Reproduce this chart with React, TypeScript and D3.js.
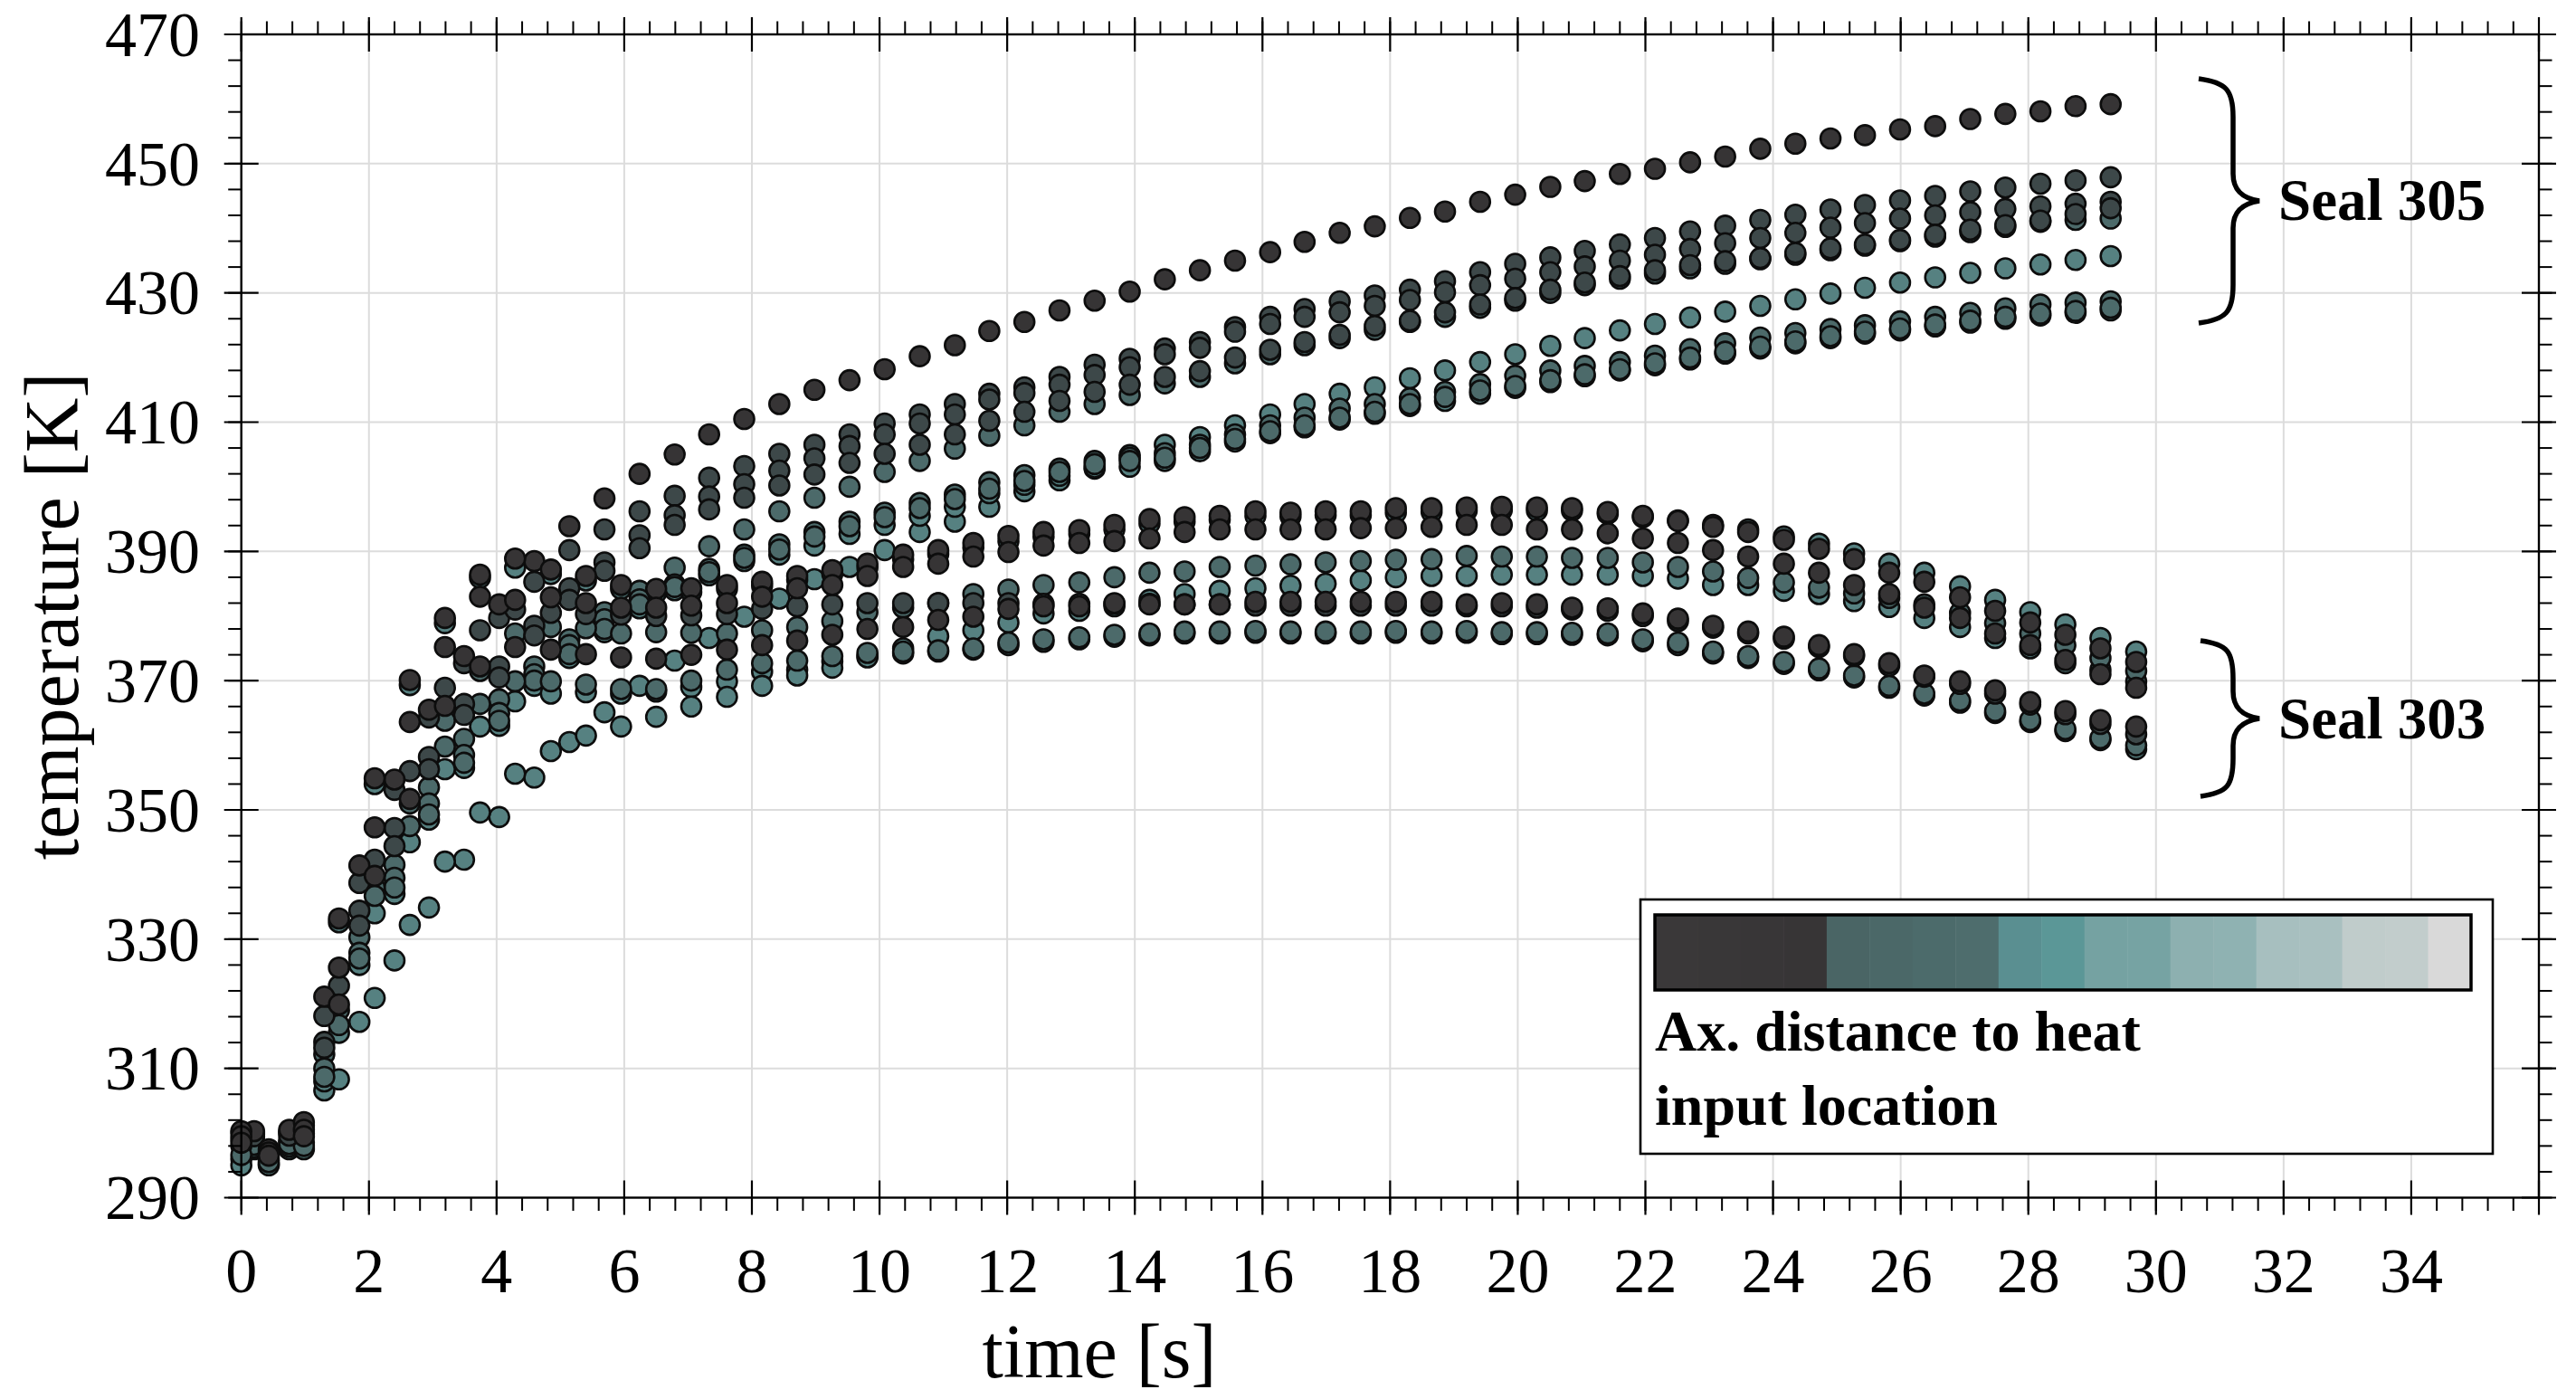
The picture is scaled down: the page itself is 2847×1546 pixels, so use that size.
import React from "react";
import * as d3 from "d3";

// ---------- DATA ----------
const timesSeal305 = [0.20, 0.75, 1.30, 1.85, 2.40, 2.94, 3.49, 4.04, 4.59, 5.14, 5.69, 6.24, 6.79, 7.33, 7.88, 8.43, 8.98, 9.53, 10.08, 10.63, 11.18, 11.72, 12.27, 12.82, 13.37, 13.92, 14.47, 15.02, 15.57, 16.12, 16.66, 17.21, 17.76, 18.31, 18.86, 19.41, 19.96, 20.51, 21.05, 21.60, 22.15, 22.70, 23.25, 23.80, 24.35, 24.90, 25.44, 25.99, 26.54, 27.09, 27.64, 28.19, 28.74, 29.29];
const timesSeal303 = [0.00, 0.43, 0.98, 1.53, 2.09, 2.64, 3.19, 3.74, 4.29, 4.85, 5.40, 5.95, 6.50, 7.05, 7.61, 8.16, 8.71, 9.26, 9.81, 10.37, 10.92, 11.47, 12.02, 12.57, 13.13, 13.68, 14.23, 14.78, 15.33, 15.89, 16.44, 16.99, 17.54, 18.09, 18.65, 19.20, 19.75, 20.30, 20.85, 21.41, 21.96, 22.51, 23.06, 23.61, 24.17, 24.72, 25.27, 25.82, 26.37, 26.93, 27.48, 28.03, 28.58, 29.13, 29.69];

// Seal 305 sensors
const u1 = [300.3, 300.5, 321.1, 341.4, 354.7, 365.5, 373.8, 381.8, 388.5, 393.9, 398.2, 402.0, 405.0, 408.1, 410.5, 412.8, 415.0, 416.5, 418.2, 420.2, 421.9, 424.1, 425.5, 427.3, 428.8, 430.2, 432.1, 433.5, 435.0, 436.3, 437.9, 439.3, 440.3, 441.6, 442.6, 444.1, 445.2, 446.4, 447.3, 448.4, 449.2, 450.2, 451.1, 452.3, 453.1, 453.9, 454.4, 455.3, 455.8, 456.9, 457.7, 458.1, 458.9, 459.2];
const u2 = [300.0, 300.2, 318.1, 338.7, 353.1, 364.3, 372.7, 379.7, 385.3, 390.2, 393.4, 396.2, 398.6, 401.4, 403.2, 405.1, 406.5, 408.1, 409.8, 411.2, 412.8, 414.4, 415.4, 417.0, 418.9, 419.8, 421.4, 422.4, 424.7, 426.3, 427.5, 428.7, 429.6, 430.5, 431.8, 433.2, 434.5, 435.5, 436.5, 437.5, 438.5, 439.5, 440.4, 441.3, 442.1, 442.9, 443.6, 444.3, 445.0, 445.7, 446.3, 446.9, 447.4, 447.9];
const u3 = [299.8, 300.0, 314.1, 334.4, 347.2, 358.2, 366.4, 372.2, 378.5, 384.3, 388.3, 392.5, 395.6, 398.5, 400.4, 402.5, 404.4, 406.3, 408.1, 409.8, 411.2, 413.5, 414.5, 415.8, 417.3, 418.5, 420.5, 421.5, 424.0, 425.2, 426.3, 427.0, 428.0, 428.9, 430.1, 431.2, 432.2, 433.2, 434.1, 435.0, 435.9, 436.8, 437.7, 438.5, 439.3, 440.1, 440.8, 441.5, 442.0, 442.5, 443.0, 443.4, 443.8, 444.1];
const u4 = [299.5, 299.6, 313.2, 332.1, 344.4, 356.3, 364.7, 370.5, 377.0, 382.5, 387.0, 390.5, 394.1, 396.5, 398.3, 400.2, 401.9, 403.7, 405.1, 406.5, 408.1, 410.2, 411.6, 413.3, 414.7, 415.8, 417.0, 417.9, 420.0, 421.2, 422.4, 423.5, 424.9, 425.7, 427.0, 428.2, 429.2, 430.5, 431.6, 432.6, 433.5, 434.3, 434.9, 435.4, 436.2, 436.9, 437.5, 438.2, 439.0, 439.8, 440.5, 441.2, 442.2, 443.1];
const u5 = [298.9, 298.9, 312.2, 330.3, 341.5, 353.5, 361.0, 367.1, 372.2, 376.4, 380.6, 383.9, 387.5, 390.8, 393.4, 396.2, 398.3, 400.0, 402.3, 404.0, 405.9, 407.9, 409.5, 411.6, 412.8, 414.2, 416.0, 417.0, 419.1, 420.5, 421.9, 423.0, 424.3, 425.5, 426.3, 427.7, 428.8, 430.0, 431.2, 432.2, 433.0, 433.8, 434.5, 435.2, 435.9, 436.6, 437.3, 438.0, 438.7, 439.4, 440.2, 441.0, 441.3, 441.5];
const u6 = [297.5, 297.5, 306.6, 317.2, 326.7, 334.9, 342.3, 348.9, 355.0, 360.5, 365.1, 369.2, 373.1, 376.6, 379.9, 382.7, 385.7, 387.6, 390.2, 393.0, 394.6, 396.9, 399.3, 401.0, 402.8, 404.9, 406.5, 407.7, 409.5, 411.2, 412.8, 414.4, 415.4, 416.8, 418.0, 419.3, 420.5, 421.8, 423.0, 424.2, 425.2, 426.2, 427.1, 428.0, 429.0, 429.9, 430.8, 431.6, 432.4, 433.1, 433.8, 434.4, 435.1, 435.7];
const u7 = [298.5, 298.6, 310.0, 327.9, 339.5, 351.0, 358.5, 365.0, 371.0, 375.5, 379.5, 382.6, 384.9, 387.3, 389.5, 391.1, 393.0, 394.6, 396.0, 397.5, 398.8, 400.7, 401.8, 402.8, 404.0, 404.5, 405.2, 406.5, 408.1, 409.5, 410.7, 412.1, 412.8, 413.7, 414.7, 415.9, 417.2, 418.0, 418.7, 419.3, 420.3, 421.3, 422.2, 423.1, 423.8, 424.4, 425.0, 425.6, 426.3, 426.9, 427.6, 428.2, 428.5, 428.7];
const u8 = [298.2, 298.3, 308.7, 327.0, 338.0, 349.3, 357.3, 363.8, 370.0, 374.1, 378.0, 381.8, 384.5, 386.8, 389.0, 390.3, 392.3, 393.9, 395.3, 396.7, 398.1, 399.7, 400.9, 402.3, 403.5, 404.0, 404.5, 406.0, 407.4, 408.6, 409.5, 410.7, 411.6, 412.8, 413.9, 414.9, 415.6, 416.5, 417.4, 418.2, 419.1, 420.0, 420.9, 421.7, 422.5, 423.3, 424.0, 424.5, 425.1, 425.7, 426.3, 426.8, 427.2, 427.7];
const u9 = [297.8, 297.9, 308.0, 326.0, 337.0, 348.5, 356.5, 363.0, 369.2, 373.5, 377.5, 381.2, 384.0, 386.3, 388.5, 389.5, 390.9, 392.7, 394.1, 395.5, 396.9, 399.0, 400.3, 401.7, 403.0, 403.1, 404.0, 405.5, 407.0, 408.3, 409.2, 410.4, 411.3, 412.5, 413.3, 414.4, 415.3, 416.2, 417.1, 418.0, 418.8, 419.7, 420.6, 421.4, 422.2, 423.0, 423.7, 424.2, 424.8, 425.4, 426.0, 426.5, 426.9, 427.3];

// Seal 303 sensors
const l1 = [300.3, 297.5, 301.7, 333.2, 354.9, 370.1, 379.7, 386.4, 388.9, 387.2, 386.2, 384.8, 384.2, 384.3, 384.8, 385.3, 386.2, 387.1, 388.1, 389.5, 390.2, 391.3, 392.4, 393.0, 393.3, 394.1, 395.0, 395.3, 395.5, 396.2, 396.0, 396.2, 396.2, 396.7, 396.7, 396.8, 396.9, 396.8, 396.7, 396.1, 395.5, 394.7, 393.8, 393.0, 391.8, 390.4, 388.8, 386.7, 385.3, 382.9, 380.8, 379.0, 377.1, 375.0, 372.9];
const l1b = [300.0, 297.3, 301.2, 332.6, 354.0, 369.3, 378.9, 385.9, 387.5, 386.5, 385.5, 384.2, 383.6, 383.7, 384.2, 384.7, 385.6, 386.5, 387.5, 388.8, 389.6, 390.6, 391.6, 392.3, 392.7, 393.4, 394.3, 394.6, 394.9, 395.5, 395.4, 395.6, 395.6, 396.0, 396.1, 396.3, 396.4, 396.3, 396.3, 395.8, 395.3, 394.8, 394.1, 393.4, 392.3, 391.2, 389.7, 388.1, 386.7, 384.6, 382.5, 380.6, 378.7, 376.6, 374.5];
const l2 = [299.5, 297.0, 300.5, 325.6, 347.3, 363.6, 375.2, 383.0, 382.5, 382.9, 382.0, 381.3, 381.3, 381.6, 382.0, 383.0, 384.3, 384.8, 386.2, 387.6, 388.1, 389.2, 389.9, 390.9, 391.3, 391.6, 392.0, 393.0, 393.4, 393.4, 393.4, 393.4, 393.6, 393.6, 393.8, 394.1, 394.1, 393.4, 393.4, 392.8, 392.0, 391.3, 390.2, 389.2, 388.1, 386.7, 384.8, 383.4, 381.3, 379.7, 377.3, 375.5, 373.2, 371.0, 368.9];
const l3 = [298.0, 296.0, 298.5, 319.0, 338.0, 351.0, 363.8, 371.5, 377.3, 378.3, 378.1, 377.3, 377.5, 377.4, 377.3, 377.8, 378.3, 379.2, 380.6, 381.3, 382.0, 383.4, 384.1, 384.8, 385.2, 386.0, 386.7, 386.9, 387.6, 387.8, 388.0, 388.3, 388.5, 388.7, 388.8, 389.3, 389.2, 389.2, 389.0, 389.0, 388.3, 387.6, 386.9, 385.9, 385.2, 384.4, 383.5, 382.8, 381.8, 380.5, 378.9, 377.3, 375.5, 373.5, 371.5];
const l4 = [299.0, 296.8, 299.9, 322.8, 342.3, 356.0, 368.9, 377.8, 381.0, 380.5, 380.3, 380.2, 380.0, 380.1, 380.3, 381.1, 381.5, 381.8, 382.0, 382.0, 382.0, 382.0, 382.0, 381.9, 381.9, 381.9, 381.9, 381.8, 381.8, 381.6, 381.6, 381.6, 381.6, 381.6, 381.6, 381.5, 381.5, 381.3, 381.0, 380.8, 380.0, 379.2, 378.2, 377.3, 376.5, 375.2, 373.8, 372.3, 370.6, 369.5, 368.0, 366.3, 364.8, 363.3, 361.7];
const l5 = [298.5, 296.5, 299.5, 319.9, 339.8, 351.7, 366.1, 372.2, 375.2, 374.8, 374.1, 373.6, 373.4, 374.0, 374.8, 375.5, 376.2, 377.1, 378.0, 378.3, 379.4, 379.9, 381.1, 381.5, 381.5, 382.0, 381.8, 381.8, 381.8, 382.2, 382.2, 382.2, 382.2, 382.2, 382.2, 381.8, 382.0, 381.8, 381.3, 381.2, 380.4, 379.6, 378.5, 377.6, 376.8, 375.5, 374.1, 372.7, 370.8, 369.9, 368.5, 366.7, 365.3, 363.9, 362.9];
const l6 = [296.6, 295.5, 298.0, 316.7, 336.7, 347.5, 359.8, 366.4, 369.9, 369.9, 369.4, 368.7, 368.7, 370.0, 371.7, 372.7, 373.1, 373.8, 374.3, 374.5, 374.7, 375.0, 375.9, 376.4, 376.7, 377.1, 377.3, 377.6, 377.6, 377.7, 377.6, 377.6, 377.6, 377.7, 377.6, 377.7, 377.5, 377.5, 377.4, 377.3, 376.4, 375.9, 374.5, 373.8, 372.9, 371.9, 370.8, 369.2, 368.0, 366.9, 365.3, 363.9, 362.5, 361.1, 360.0];
const l7 = [296.0, 295.2, 297.7, 315.5, 334.0, 345.0, 356.3, 362.9, 366.8, 368.0, 368.2, 368.0, 368.3, 369.0, 369.9, 371.4, 371.7, 373.0, 373.8, 374.2, 374.5, 374.8, 375.5, 376.0, 376.4, 376.8, 377.0, 377.3, 377.3, 377.4, 377.3, 377.3, 377.3, 377.4, 377.3, 377.4, 377.2, 377.2, 377.1, 377.0, 376.1, 375.5, 374.2, 373.5, 372.6, 371.6, 370.5, 368.9, 367.7, 366.6, 365.0, 363.6, 362.2, 360.8, 359.4];
const l8 = [295.0, 295.0, 297.5, 308.3, 320.9, 332.2, 342.0, 349.6, 355.6, 359.1, 361.5, 362.9, 364.4, 366.0, 367.5, 369.2, 370.8, 372.0, 373.6, 375.0, 376.9, 377.8, 379.0, 380.4, 380.8, 381.5, 382.5, 383.4, 383.9, 384.3, 384.7, 385.0, 385.5, 386.0, 386.2, 386.2, 386.4, 386.4, 386.4, 386.4, 386.2, 385.8, 384.8, 384.8, 383.9, 383.4, 382.3, 381.4, 379.7, 378.3, 376.6, 375.0, 372.7, 371.7, 369.9];

// group -> sensor names (shade class = ax. distance class)
const seal305Sensors = [
  { name: "u1", values: u1, shade: 3 },
  { name: "u2", values: u2, shade: 2 },
  { name: "u3", values: u3, shade: 2 },
  { name: "u4", values: u4, shade: 2 },
  { name: "u5", values: u5, shade: 1 },
  { name: "u6", values: u6, shade: 0 },
  { name: "u7", values: u7, shade: 1 },
  { name: "u8", values: u8, shade: 1 },
  { name: "u9", values: u9, shade: 0 },
];
const seal303Sensors = [
  { name: "l1", values: l1, shade: 3 },
  { name: "l1b", values: l1b, shade: 0 },
  { name: "l2", values: l2, shade: 3 },
  { name: "l3", values: l3, shade: 1 },
  { name: "l4", values: l4, shade: 2 },
  { name: "l5", values: l5, shade: 3 },
  { name: "l6", values: l6, shade: 1 },
  { name: "l7", values: l7, shade: 0 },
  { name: "l8", values: l8, shade: 0 },
];

const xTickLabels = [0, 2, 4, 6, 8, 10, 12, 14, 16, 18, 20, 22, 24, 26, 28, 30, 32, 34];
const yTickLabels = [290, 310, 330, 350, 370, 390, 410, 430, 450, 470];
const legendCells = ["#3a3839", "#393738", "#383637", "#373536", "#4a6565", "#4b6868", "#4c6b6b", "#4e6d6d", "#5a8f91", "#5b9797", "#75a2a2", "#76a3a3", "#8db0b0", "#8fb2b2", "#a7bfbf", "#a9c0c0", "#c0cccb", "#c2cdcc", "#d9d9d9"];

// ---------- STYLE ----------
const shadeColors = ["#568181", "#4c6a6a", "#3d4849", "#363435"];
const FONT = "'Liberation Serif', 'DejaVu Serif', serif";

const W = 2847, H = 1546;
const PL = 266.7, PR = 2806, PT = 38, PB = 1323.5;

function bracePath(x0: number, xv: number, tip: number, yTop: number, yBot: number) {
  const m = (yTop + yBot) / 2;
  return `M ${x0} ${yTop} C ${x0 + 30} ${yTop + 4}, ${xv} ${yTop + 12}, ${xv} ${yTop + 42}
    L ${xv} ${m - 30} C ${xv} ${m - 12}, ${xv + 10} ${m - 3}, ${tip} ${m}
    C ${xv + 10} ${m + 3}, ${xv} ${m + 12}, ${xv} ${m + 30}
    L ${xv} ${yBot - 42} C ${xv} ${yBot - 12}, ${x0 + 30} ${yBot - 4}, ${x0} ${yBot}`;
}

export default function App() {
  const x = d3.scaleLinear().domain([0, 36]).range([PL, PR]);
  const y = d3.scaleLinear().domain([290, 470]).range([PB, PT]);

  const xMinor = d3.range(0, 36.001, 0.4);
  const yMinor = d3.range(290, 470.001, 4);

  type Pt = { t: number; v: number; shade: number; key: string };
  const pts: Pt[] = [];
  seal305Sensors.forEach((s) => s.values.forEach((v, i) => pts.push({ t: timesSeal305[i], v, shade: s.shade, key: s.name + i })));
  seal303Sensors.forEach((s) => s.values.forEach((v, i) => pts.push({ t: timesSeal303[i], v, shade: s.shade, key: s.name + i })));
  const ordered = [...pts].sort((a, b) => a.shade - b.shade);

  const legX0 = 1829, legX1 = 2731;
  const cellX = d3.scaleBand<number>().domain(d3.range(legendCells.length)).range([legX0, legX1]);

  const MAJ = 19, MIN = 14.5;

  return (
    <svg width={W} height={H} style={{ display: "block", position: "absolute", left: 0, top: 0, background: "#fff" }} fontFamily={FONT}>
      <style>{`body{margin:0}`}</style>
      <rect x={0} y={0} width={W} height={H} fill="#fff" />
      {/* grid */}
      {xTickLabels.filter((d) => d > 0).map((d) => (
        <line key={"gx" + d} x1={x(d)} x2={x(d)} y1={PT} y2={PB} stroke="#dcdcdc" strokeWidth={2} />
      ))}
      {yTickLabels.filter((d) => d > 290 && d < 470).map((d) => (
        <line key={"gy" + d} x1={PL} x2={PR} y1={y(d)} y2={y(d)} stroke="#dcdcdc" strokeWidth={2} />
      ))}

      {/* points */}
      {ordered.map((p) => (
        <circle key={p.key} cx={x(p.t)} cy={y(p.v)} r={11} fill={shadeColors[p.shade]} stroke="#0d0d0d" strokeWidth={2.6} />
      ))}

      {/* legend */}
      <rect x={1813} y={994} width={942} height={281} fill="#fff" stroke="#000" strokeWidth={2.6} />
      {legendCells.map((c, i) => (
        <rect key={"lc" + i} x={cellX(i)} y={1011} width={cellX.bandwidth() + 0.5} height={83} fill={c} />
      ))}
      <rect x={legX0} y={1011} width={legX1 - legX0} height={83} fill="none" stroke="#000" strokeWidth={3.5} />
      <text x={1829} y={1161} fontSize={64} fontWeight="bold">Ax. distance to heat</text>
      <text x={1829} y={1243} fontSize={64} fontWeight="bold">input location</text>

      {/* frame */}
      <rect x={PL} y={PT} width={PR - PL} height={PB - PT} fill="none" stroke="#000" strokeWidth={2.4} />
      {/* minor ticks (outside) */}
      {xMinor.map((d, i) => (
        <g key={"xm" + i}>
          <line x1={x(d)} x2={x(d)} y1={PB} y2={PB + MIN} stroke="#000" strokeWidth={2} />
          <line x1={x(d)} x2={x(d)} y1={PT} y2={PT - MIN} stroke="#000" strokeWidth={2} />
        </g>
      ))}
      {yMinor.map((d, i) => (
        <g key={"ym" + i}>
          <line x1={PL} x2={PL - MIN} y1={y(d)} y2={y(d)} stroke="#000" strokeWidth={2} />
          <line x1={PR} x2={PR + MIN} y1={y(d)} y2={y(d)} stroke="#000" strokeWidth={2} />
        </g>
      ))}
      {/* major ticks (both sides) */}
      {d3.range(0, 36.001, 2).map((d) => (
        <g key={"xM" + d}>
          <line x1={x(d)} x2={x(d)} y1={PB - MAJ} y2={PB + MAJ} stroke="#000" strokeWidth={2.2} />
          <line x1={x(d)} x2={x(d)} y1={PT - MAJ} y2={PT + MAJ} stroke="#000" strokeWidth={2.2} />
        </g>
      ))}
      {yTickLabels.map((d) => (
        <g key={"yM" + d}>
          <line x1={PL - MAJ} x2={PL + MAJ} y1={y(d)} y2={y(d)} stroke="#000" strokeWidth={2.2} />
          <line x1={PR - MAJ} x2={PR + MAJ} y1={y(d)} y2={y(d)} stroke="#000" strokeWidth={2.2} />
        </g>
      ))}

      {/* tick labels */}
      {xTickLabels.map((d) => (
        <text key={"xl" + d} x={x(d)} y={1428} fontSize={70} textAnchor="middle">{d}</text>
      ))}
      {yTickLabels.map((d) => (
        <text key={"yl" + d} x={221} y={y(d)} dy="0.34em" fontSize={70} textAnchor="end">{d}</text>
      ))}

      {/* axis titles */}
      <text x={1215} y={1522} fontSize={84} textAnchor="middle">time [s]</text>
      <text transform={`translate(86, 681) rotate(-90)`} fontSize={84} textAnchor="middle">temperature [K]</text>

      {/* braces */}
      <path d={bracePath(2430, 2468, 2497, 87, 357)} fill="none" stroke="#000" strokeWidth={5.5} />
      <text x={2518} y={243} fontSize={65} fontWeight="bold">Seal 305</text>
      <path d={bracePath(2432, 2468, 2497, 708, 880)} fill="none" stroke="#000" strokeWidth={5.5} />
      <text x={2518} y={816} fontSize={65} fontWeight="bold">Seal 303</text>
    </svg>
  );
}
